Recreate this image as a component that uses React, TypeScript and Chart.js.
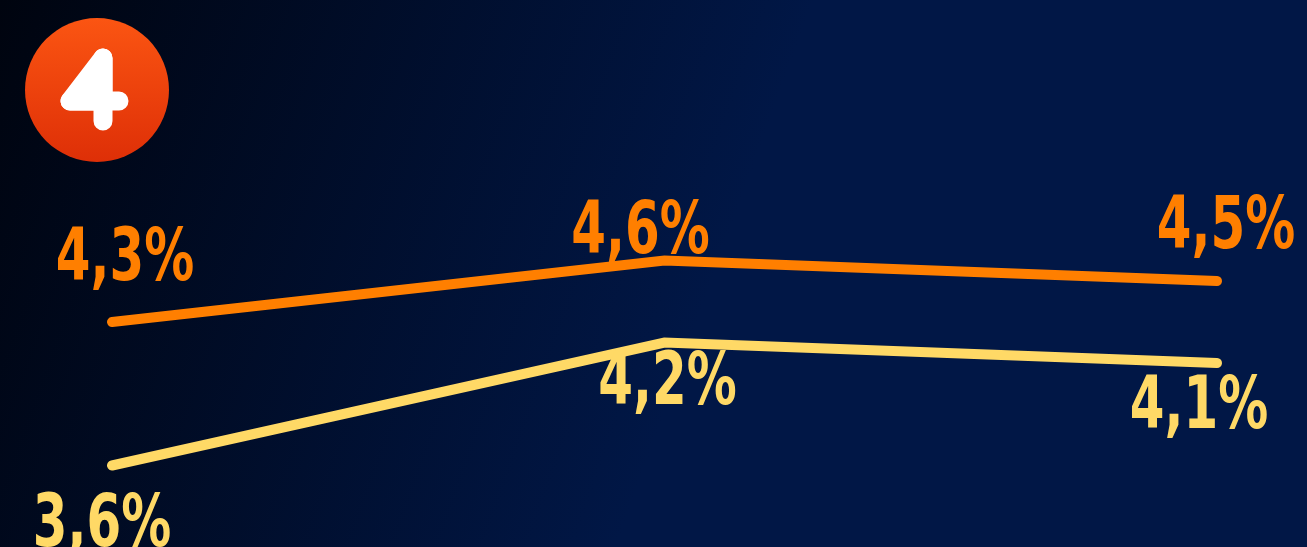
import React, { useEffect, useRef } from "react";
import { Chart, registerables } from "chart.js";

Chart.register(...registerables);

const categories = ["A", "B", "C"];
const seriesOrange = [4.3, 4.6, 4.5];
const seriesYellow = [3.6, 4.2, 4.1];
const labelsOrange = ["4,3%", "4,6%", "4,5%"];
const labelsYellow = ["3,6%", "4,2%", "4,1%"];

const ORANGE = "#ff7f00";
const YELLOW = "#ffd966";

// label offsets (dx, baseline dy) relative to each point
const offsetsOrange = [
  [13, -42],
  [-24, -8],
  [9, -33],
];
const offsetsYellow = [
  [-10, 80],
  [3, 61],
  [-18, 65],
];

const bgPlugin = {
  id: "bg",
  beforeDraw(chart: any) {
    const { ctx, width, height } = chart;
    ctx.save();
    const g = ctx.createLinearGradient(0, 0, 720, 260);
    g.addColorStop(0, "#00040f");
    g.addColorStop(1, "#011746");
    ctx.fillStyle = g;
    ctx.fillRect(0, 0, width, height);
    // badge circle
    const cx = 97, cy = 90, r = 72;
    const cg = ctx.createLinearGradient(0, cy - r, 0, cy + r);
    cg.addColorStop(0, "#fb5512");
    cg.addColorStop(1, "#de2f07");
    ctx.beginPath();
    ctx.arc(cx, cy, r, 0, Math.PI * 2);
    ctx.fillStyle = cg;
    ctx.fill();
    // "4" glyph
    ctx.fillStyle = "#ffffff";
    ctx.strokeStyle = "#ffffff";
    ctx.lineWidth = 19;
    ctx.lineCap = "round";
    ctx.lineJoin = "round";
    ctx.beginPath();
    ctx.moveTo(103, 58);
    ctx.lineTo(70, 101);
    ctx.lineTo(103, 101);
    ctx.closePath();
    ctx.fill();
    ctx.stroke();
    ctx.beginPath();
    ctx.moveTo(103, 58);
    ctx.lineTo(103, 121);
    ctx.moveTo(70, 101);
    ctx.lineTo(119, 101);
    ctx.stroke();
    ctx.restore();
  },
};

const SX = 0.76;

const labelPlugin = {
  id: "vlabels",
  afterDatasetsDraw(chart: any) {
    const { ctx } = chart;
    const sets = [
      { i: 0, labels: labelsOrange, offs: offsetsOrange, color: ORANGE },
      { i: 1, labels: labelsYellow, offs: offsetsYellow, color: YELLOW },
    ];
    sets.forEach((s) => {
      const meta = chart.getDatasetMeta(s.i);
      meta.data.forEach((pt: any, k: number) => {
        const x = pt.x + s.offs[k][0];
        const y = pt.y + s.offs[k][1];
        ctx.save();
        ctx.font = "bold 73px 'DejaVu Sans Condensed', 'DejaVu Sans', sans-serif";
        ctx.textAlign = "center";
        ctx.textBaseline = "alphabetic";
        ctx.fillStyle = s.color;
        ctx.translate(x, y);
        ctx.scale(SX, 1);
        ctx.fillText(s.labels[k], 0, 0);
        ctx.restore();
      });
    });
  },
};

export default function App() {
  const ref = useRef<HTMLCanvasElement>(null);
  useEffect(() => {
    document.body.style.margin = "0";
    document.body.style.background = "#011746";
    const chart = new Chart(ref.current!, {
      type: "line",
      data: {
        labels: categories,
        datasets: [
          {
            data: seriesOrange,
            borderColor: ORANGE,
            borderWidth: 10,
            borderCapStyle: "round",
            borderJoinStyle: "miter",
            pointRadius: 0,
            tension: 0,
          },
          {
            data: seriesYellow,
            borderColor: YELLOW,
            borderWidth: 10,
            borderCapStyle: "round",
            borderJoinStyle: "miter",
            pointRadius: 0,
            tension: 0,
          },
        ],
      },
      options: {
        responsive: false,
        animation: false,
        events: [],
        layout: { padding: { left: 112, right: 90, top: 178.5, bottom: 40.5 } },
        plugins: { legend: { display: false }, tooltip: { enabled: false } },
        scales: {
          x: { display: false, offset: false },
          y: { display: false, min: 3.4, max: 5.0 },
        },
      },
      plugins: [bgPlugin, labelPlugin],
    });
    return () => chart.destroy();
  }, []);
  return (
    <div style={{ width: 1307, height: 547, overflow: "hidden" }}>
      <canvas ref={ref} width={1307} height={547} style={{ display: "block" }} />
    </div>
  );
}
